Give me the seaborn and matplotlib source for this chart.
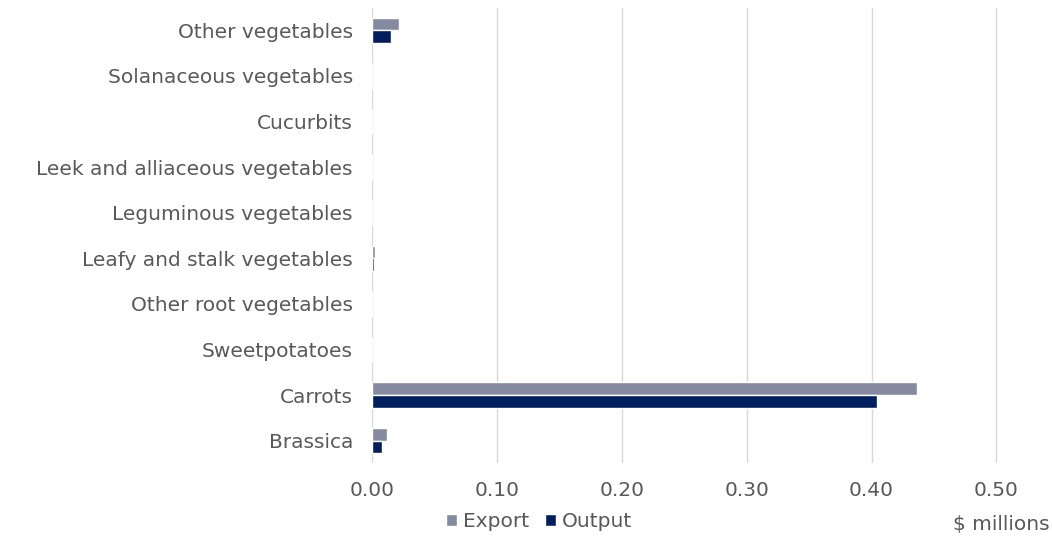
import matplotlib
matplotlib.use("Agg")
import matplotlib.pyplot as plt
import seaborn as sns
import pandas as pd

categories = [
    "Other vegetables",
    "Solanaceous vegetables",
    "Cucurbits",
    "Leek and alliaceous vegetables",
    "Leguminous vegetables",
    "Leafy and stalk vegetables",
    "Other root vegetables",
    "Sweetpotatoes",
    "Carrots",
    "Brassica",
]
export_values = [0.021, 0.0, 0.0, 0.0, 0.0, 0.002, 0.0, 0.0, 0.436, 0.012]
output_values = [0.015, 0.0, 0.0, 0.0, 0.0, 0.001, 0.0, 0.0, 0.404, 0.008]
series = ["Export", "Output"]
colors = {"Export": "#858aa1", "Output": "#011e5e"}
x_ticks = [0.0, 0.1, 0.2, 0.3, 0.4, 0.5]

df = pd.DataFrame({
    "category": categories * 2,
    "series": [series[0]] * len(categories) + [series[1]] * len(categories),
    "value": export_values + output_values,
})

sns.set_theme(style="white")
plt.rcParams["font.family"] = ["DejaVu Sans"]
text_color = "#595959"
fs = 14.5

fig = plt.figure(figsize=(10.52, 5.37), dpi=100)
ax = fig.add_axes([0.354, 0.137, 0.605, 0.849])

sns.barplot(
    data=df, y="category", x="value", hue="series", order=categories,
    hue_order=series, palette=colors, orient="h", width=0.56,
    saturation=1, ax=ax, legend=True,
)

ax.set_xlim(0, 0.51)
ax.set_xticks(x_ticks)
ax.set_xticklabels([f"{v:.2f}" for v in x_ticks])
ax.xaxis.grid(True, color="#d9d9d9", linewidth=1)
ax.set_axisbelow(True)
for s in ax.spines.values():
    s.set_visible(False)
ax.set_xlabel("")
ax.set_ylabel("")
ax.tick_params(axis="both", length=0, labelsize=fs, colors=text_color)
ax.tick_params(axis="y", pad=14)
ax.tick_params(axis="x", pad=13)

leg = ax.legend(
    loc="center left", bbox_to_anchor=(0.115, -0.128), ncol=2, frameon=False,
    fontsize=fs, handlelength=0.55, handleheight=0.55, handletextpad=0.3,
    columnspacing=0.8, borderaxespad=0, borderpad=0,
)
for t in leg.get_texts():
    t.set_color(text_color)

fig.text(0.998, 0.027, "$ millions", ha="right", va="center_baseline",
         fontsize=fs, color=text_color)

fig.savefig("out.png", dpi=100)
